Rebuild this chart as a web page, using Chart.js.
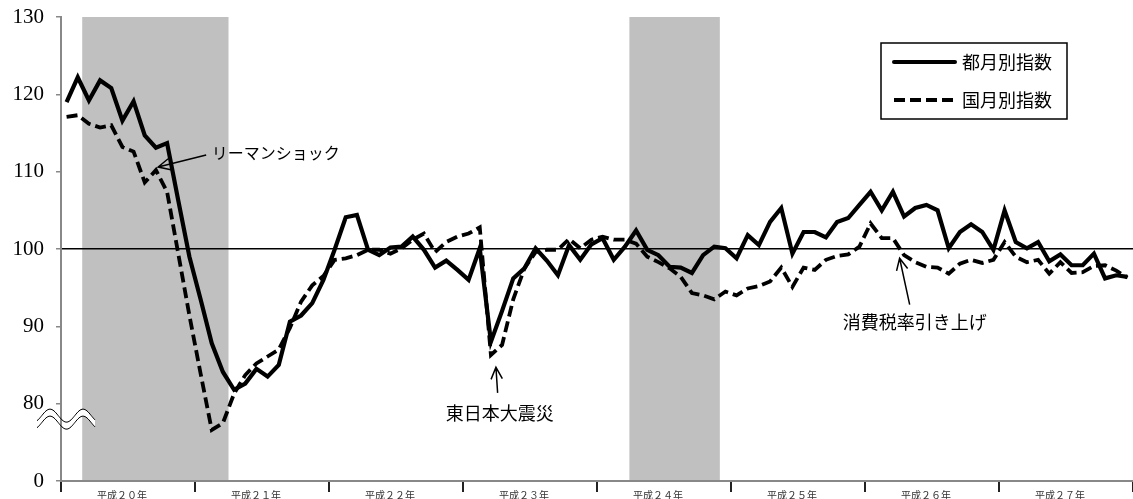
<!DOCTYPE html>
<html lang="ja">
<head>
<meta charset="utf-8">
<script src="https://cdn.jsdelivr.net/npm/chart.js@4.4.1/dist/chart.umd.min.js"></script>
<style>
  html, body { margin: 0; padding: 0; background: #fff; }
  #wrap { width: 1133px; height: 499px; position: relative; }
</style>
</head>
<body>
<div id="wrap"><canvas id="chart"></canvas></div>
<script>
// year labels on the x axis (12 months each, 平成20年1月 .. 平成27年12月)
const yearLabels = ['平成２０年', '平成２１年', '平成２２年', '平成２３年', '平成２４年', '平成２５年', '平成２６年', '平成２７年']

// 都月別指数 (solid)
const tokyoIndex = [
  119.0, 122.2, 119.2, 121.8, 120.8, 116.6, 119.1, 114.7, 113.1, 113.7, 106.3, 99.0,
  93.5, 87.8, 84.1, 81.8, 82.6, 84.5, 83.5, 85.0, 90.6, 91.4, 93.0, 96.0,
  99.9, 104.1, 104.4, 99.9, 99.2, 100.2, 100.3, 101.6, 99.9, 97.6, 98.5, 97.3,
  96.0, 100.1, 88.0, 92.0, 96.2, 97.5, 100.1, 98.5, 96.6, 100.5, 98.6, 100.6,
  101.4, 98.6, 100.3, 102.4, 99.9, 99.2, 97.7, 97.6, 96.9, 99.2, 100.3, 100.1,
  98.8, 101.8, 100.5, 103.5, 105.3, 99.4, 102.2, 102.2, 101.5, 103.5, 104.0, 105.7,
  107.4, 105.0, 107.4, 104.2, 105.3, 105.7, 105.0, 100.1, 102.2, 103.2, 102.2, 99.9,
  105.0, 100.9, 100.1, 100.9, 98.4, 99.3, 97.9, 97.9, 99.4, 96.2, 96.6, 96.4
]

// 国月別指数 (dashed)
const nationalIndex = [
  117.1, 117.3, 116.2, 115.7, 116.0, 113.2, 112.6, 108.6, 110.2, 107.4, 99.4, 91.4,
  83.9, 76.6, 77.5, 81.3, 83.7, 85.2, 86.1, 87.0, 89.8, 93.2, 95.3, 96.5,
  98.6, 98.8, 99.2, 99.9, 99.9, 99.4, 100.1, 101.2, 102.0, 99.6, 100.9, 101.6,
  102.0, 102.8, 86.3, 87.6, 93.5, 97.5, 99.6, 99.9, 99.9, 101.3, 100.1, 101.2,
  101.6, 101.2, 101.2, 100.7, 99.0, 98.3, 97.5, 96.4, 94.3, 94.0, 93.5, 94.5,
  94.0, 94.9, 95.2, 95.8, 97.6, 95.1, 97.6, 97.3, 98.6, 99.1, 99.3, 100.3,
  103.3, 101.4, 101.4, 99.2, 98.3, 97.7, 97.6, 96.8, 98.1, 98.6, 98.2, 98.6,
  100.9, 99.0, 98.3, 98.6, 96.8, 98.3, 96.9, 97.0, 97.8, 97.9, 97.2, 96.3
]

// recession periods (shaded), in month positions
const recessions = [[1.4, 14.5], [50.4, 58.5]]

// annotations: text + arrow (tail -> tip), in data units
const notes = [
  { text: 'リーマンショック', tx: 13.0, ty: 112.4, align: 'left', size: 16, tail: [12.5, 112.15], tip: [8.2, 110.6] },
  { text: '東日本大震災', tx: 38.8, ty: 78.8, align: 'center', size: 18, tail: [38.6, 81.4], tip: [38.45, 84.7] },
  { text: '消費税率引き上げ', tx: 69.5, ty: 90.6, align: 'left', size: 18, tail: [75.5, 92.8], tip: [74.6, 98.8] }
]

const FONT = "'Noto Sans CJK JP', 'Noto Sans', sans-serif"

const toPoints = arr => arr.map((v, i) => ({ x: i, y: v }))

const drawArrow = (ctx, x1, y1, x2, y2) => {
  const a = Math.atan2(y2 - y1, x2 - x1)
  const len = 13, spread = 0.45
  ctx.beginPath()
  ctx.moveTo(x1, y1)
  ctx.lineTo(x2, y2)
  ctx.moveTo(x2 - len * Math.cos(a - spread), y2 - len * Math.sin(a - spread))
  ctx.lineTo(x2, y2)
  ctx.lineTo(x2 - len * Math.cos(a + spread), y2 - len * Math.sin(a + spread))
  ctx.stroke()
}

const wave = (ctx, x0, x1, yc, reverse) => {
  const pts = []
  for (let x = x0; x <= x1; x += 1) {
    pts.push([x, yc - 6.5 * Math.cos(2 * Math.PI * (x - (x0 + 13)) / 33)])
  }
  if (reverse) pts.reverse()
  return pts
}

const decor = {
  id: 'decor',
  beforeDraw(chart) {
    const { ctx, chartArea: a, scales: { x } } = chart
    ctx.save()
    ctx.fillStyle = '#fff'
    ctx.fillRect(0, 0, chart.width, chart.height)
    ctx.fillStyle = '#c0c0c0'
    recessions.forEach(([s, e]) => {
      const x0 = x.getPixelForValue(s), x1 = x.getPixelForValue(e)
      ctx.fillRect(x0, a.top, x1 - x0, a.bottom - a.top)
    })
    ctx.restore()
  },
  afterDraw(chart) {
    const { ctx, chartArea: a, scales: { x, y } } = chart
    ctx.save()

    // axis break mark
    const yc = y.getPixelForValue(78)
    const up = wave(ctx, a.left - 24, a.left + 34, yc - 3.5, false)
    const lo = wave(ctx, a.left - 24, a.left + 34, yc + 3.5, true)
    ctx.fillStyle = '#fff'
    ctx.beginPath()
    up.concat(lo).forEach(([px, py], i) => i ? ctx.lineTo(px, py) : ctx.moveTo(px, py))
    ctx.closePath()
    ctx.fill()
    ctx.strokeStyle = '#888'
    ctx.lineWidth = 2
    ctx.beginPath()
    ctx.moveTo(a.left, yc - 14)
    ctx.lineTo(a.left, yc + 14)
    ctx.stroke()
    ctx.strokeStyle = '#000'
    ctx.lineWidth = 1
    ;[up, lo].forEach(line => {
      ctx.beginPath()
      line.forEach(([px, py], i) => i ? ctx.lineTo(px, py) : ctx.moveTo(px, py))
      ctx.stroke()
    })

    // annotations
    ctx.fillStyle = '#000'
    ctx.strokeStyle = '#000'
    ctx.lineWidth = 1.5
    ctx.textBaseline = 'middle'
    notes.forEach(n => {
      ctx.font = `${n.size}px ${FONT}`
      ctx.textAlign = n.align
      ctx.fillText(n.text, x.getPixelForValue(n.tx), y.getPixelForValue(n.ty))
      drawArrow(ctx,
        x.getPixelForValue(n.tail[0]), y.getPixelForValue(n.tail[1]),
        x.getPixelForValue(n.tip[0]), y.getPixelForValue(n.tip[1]))
    })

    // legend box
    const bx = a.left + 820, by = a.top + 26, bw = 186, bh = 76
    ctx.fillStyle = '#fff'
    ctx.fillRect(bx, by, bw, bh)
    ctx.lineWidth = 1.5
    ctx.strokeRect(bx, by, bw, bh)
    chart.data.datasets.forEach((ds, i) => {
      const ly = by + 19 + i * 38
      ctx.setLineDash(ds.borderDash || [])
      ctx.lineWidth = 4
      ctx.lineCap = ds.borderDash ? 'butt' : 'round'
      ctx.beginPath()
      ctx.moveTo(bx + 13, ly)
      ctx.lineTo(bx + 74, ly)
      ctx.stroke()
      ctx.setLineDash([])
      ctx.fillStyle = '#000'
      ctx.font = `18px ${FONT}`
      ctx.textAlign = 'left'
      ctx.fillText(ds.label, bx + 81, ly)
    })
    ctx.restore()
  }
}

new Chart(
  document.getElementById('chart'),
  {
    type: 'line',
    plugins: [decor],
    data: {
      datasets: [
        {
          label: '都月別指数',
          data: toPoints(tokyoIndex),
          borderColor: '#000',
          borderWidth: 4.2,
          borderJoinStyle: 'miter',
          pointRadius: 0,
          tension: 0
        },
        {
          label: '国月別指数',
          data: toPoints(nationalIndex),
          borderColor: '#000',
          borderWidth: 3.8,
          borderDash: [11, 5],
          borderJoinStyle: 'miter',
          pointRadius: 0,
          tension: 0
        }
      ]
    },
    options: {
      responsive: true,
      maintainAspectRatio: false,
      animation: false,
      layout: { padding: { top: 17, right: 0, left: 0, bottom: 0 } },
      plugins: {
        legend: { display: false },
        tooltip: { enabled: false }
      },
      scales: {
        x: {
          type: 'linear',
          min: -0.5,
          max: 95.5,
          afterBuildTicks: scale => {
            scale.ticks = yearLabels.map((_, k) => ({ value: 5.5 + 12 * k }))
          },
          afterFit: scale => {
            scale.height = 18
            scale.paddingLeft = 0
            scale.paddingRight = 0
          },
          ticks: {
            autoSkip: false,
            maxRotation: 0,
            padding: -3,
            labelOffset: -6,
            color: '#333',
            font: { family: FONT, size: 10 },
            callback: (v, i) => yearLabels[i]
          },
          grid: {
            offset: true,
            drawOnChartArea: false,
            tickLength: 11,
            tickColor: '#222',
            lineWidth: 2
          },
          border: { color: '#888', width: 2 }
        },
        y: {
          min: 70,
          max: 130,
          afterFit: scale => {
            scale.width = 61
            scale.paddingTop = 0
            scale.paddingBottom = 0
          },
          ticks: {
            stepSize: 10,
            padding: 12,
            color: '#000',
            font: { family: "'Liberation Serif', 'DejaVu Serif', serif", size: 21 },
            callback: v => v === 70 ? '0' : v
          },
          grid: {
            color: c => c.tick && c.tick.value === 100 ? '#000' : 'rgba(0,0,0,0)',
            lineWidth: 1.5,
            tickColor: '#888',
            tickLength: 5
          },
          border: { color: '#888', width: 2 }
        }
      }
    }
  }
)
</script>
</body>
</html>
